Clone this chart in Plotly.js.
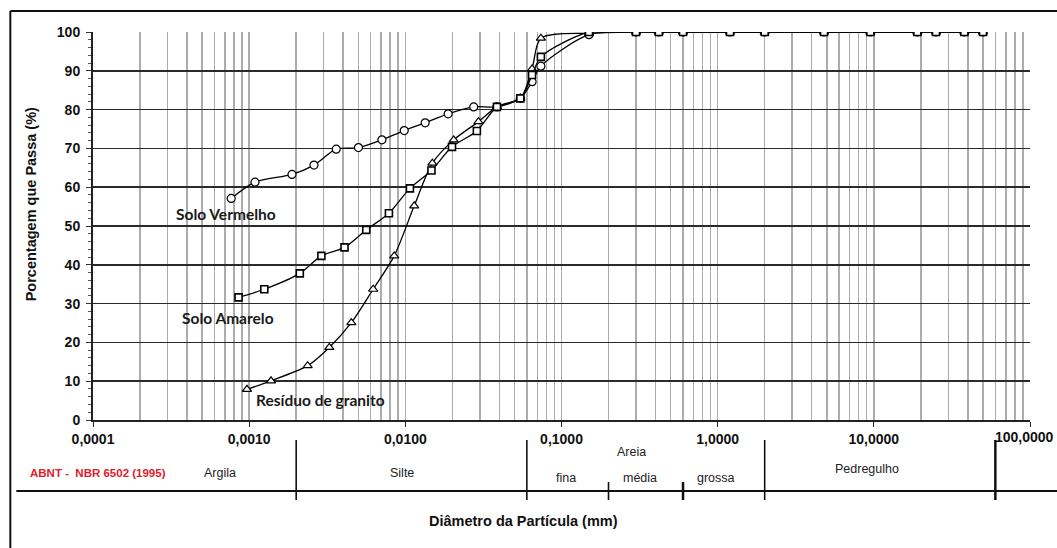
<!DOCTYPE html>
<html>
<head>
<meta charset="utf-8">
<script src="https://cdn.plot.ly/plotly-3.0.1.min.js"></script>
<style>html,body{margin:0;padding:0;background:#fff;}#chart{width:1057px;height:548px;}</style>
</head>
<body>
<div id="chart"></div>
<script>
// ---- Data ----
const dVermelho = [0.000767, 0.00109, 0.00188, 0.0026, 0.00361, 0.00501, 0.00708, 0.00984, 0.0134, 0.0188, 0.0274, 0.0386, 0.0545, 0.0648, 0.0738, 0.15, 0.3, 0.42, 0.6, 1.2, 2.0, 4.8, 9.5, 19, 25, 38, 50];
const pVermelho = [57.1, 61.3, 63.3, 65.7, 69.8, 70.2, 72.2, 74.6, 76.6, 78.9, 80.7, 80.7, 82.9, 87.2, 91.2, 99.3, 100, 100, 100, 100, 100, 100, 100, 100, 100, 100, 100];

const dAmarelo = [0.000855, 0.00125, 0.00211, 0.0029, 0.00408, 0.00562, 0.00785, 0.0107, 0.0147, 0.0199, 0.0287, 0.0386, 0.0545, 0.0648, 0.0738, 0.15, 0.3, 0.42, 0.6, 1.2, 2.0, 4.8, 9.5, 19, 25, 38, 50];
const pAmarelo = [31.6, 33.7, 37.8, 42.3, 44.5, 49.0, 53.3, 59.7, 64.3, 70.4, 74.5, 80.7, 82.9, 88.9, 93.6, 100, 100, 100, 100, 100, 100, 100, 100, 100, 100, 100, 100];

const dGranito = [0.000968, 0.00138, 0.00237, 0.00326, 0.00451, 0.00622, 0.00849, 0.0114, 0.0149, 0.0204, 0.0294, 0.0386, 0.0545, 0.0648, 0.0738, 0.15, 0.3, 0.42, 0.6, 1.2, 2.0, 4.8, 9.5, 19, 25, 38, 50];
const pGranito = [7.9, 10.1, 14.0, 18.7, 25.1, 33.7, 42.3, 55.2, 66.2, 72.2, 76.9, 80.7, 82.9, 90.5, 98.4, 99.7, 100, 100, 100, 100, 100, 100, 100, 100, 100, 100, 100];

const seriesNames = ["Solo Vermelho", "Solo Amarelo", "Resíduo de granito"];
const xTickVals = [0.0001, 0.001, 0.01, 0.1, 1, 10, 100];
const xTickText = ["0,0001", "0,0010", "0,0100", "0,1000", "1,0000", "10,0000", "100,0000"];
const yTickVals = [0, 10, 20, 30, 40, 50, 60, 70, 80, 90, 100];

// ABNT NBR 6502 (1995) class boundaries (mm)
const boundaries = [0.002, 0.06, 0.2, 0.6, 2.0, 60];
const boundaryTall = [true, true, false, false, true, true];
const classLabels = ["Argila", "Silte", "fina", "média", "grossa", "Pedregulho"];

// ---- Helpers (pixel -> paper) ----
const L = 92.7, R = 1030, T = 32, B = 420;
const px = p => (p - L) / (R - L);
const py = p => (B - p) / (B - T);

// minor grid values
const minorVals = [];
for (let e = -4; e < 2; e++) for (let k = 2; k <= 9; k++) minorVals.push(k * Math.pow(10, e));

const lineStyle = {color: "#000", width: 1.3, shape: "spline", smoothing: 0.8};
const traces = [
  {x: dVermelho, y: pVermelho, name: seriesNames[0], mode: "lines+markers", line: lineStyle,
   marker: {symbol: "circle", size: 8, color: "#fff", line: {color: "#000", width: 1.2}}},
  {x: dGranito, y: pGranito, name: seriesNames[2], mode: "lines+markers", line: lineStyle,
   marker: {symbol: "triangle-up", size: 8, color: "#fff", line: {color: "#000", width: 1.2}}},
  {x: dAmarelo, y: pAmarelo, name: seriesNames[1], mode: "lines+markers", line: lineStyle,
   marker: {symbol: "square", size: 7, color: "#fff", line: {color: "#000", width: 1.6}}}
];

const shapes = [];
// outer frame (top & left visible)
shapes.push({type: "line", xref: "paper", yref: "paper", x0: px(10), x1: px(1070), y0: py(11), y1: py(11), line: {color: "#111", width: 2}});
shapes.push({type: "line", xref: "paper", yref: "paper", x0: px(10), x1: px(10), y0: py(11), y1: py(560), line: {color: "#111", width: 2}});
// table horizontal line
shapes.push({type: "line", xref: "paper", yref: "paper", x0: px(16), x1: px(1070), y0: py(491), y1: py(491), line: {color: "#111", width: 2}});
// separators
boundaries.forEach((b, i) => {
  shapes.push({type: "line", xref: "x", yref: "paper", x0: b, x1: b,
    y0: py(boundaryTall[i] ? 440 : 482), y1: py(500),
    line: {color: "#111", width: (b === 0.6 || b === 60) ? 2.5 : 1.6}});
});

const tableFont = {family: "Liberation Sans, Arial, sans-serif", size: 12.5, color: "#222"};
const labelFont = {family: "Lato, Calibri, sans-serif", size: 15.5, color: "#1a1a1a", weight: 700};
const titleFont = {family: "Liberation Sans, Arial, sans-serif", size: 14.5, color: "#111"};
const tickFont = {family: "Liberation Sans, Arial, sans-serif", size: 14, weight: 700, color: "#111"};

// last x tick label sits at the page edge: drawn as annotation, right-aligned to fit
const lastIdx = xTickVals.length - 1;
const shownTickText = xTickText.map((t, i) => i === lastIdx ? "" : t);

const annotations = [
  {text: "<b>Solo Vermelho</b>", x: px(226), y: py(214), font: labelFont},
  {text: "<b>Solo Amarelo</b>", x: px(228), y: py(318), font: labelFont},
  {text: "<b>Resíduo de granito</b>", x: px(320), y: py(400), font: labelFont},
  {text: "<b>ABNT -  NBR 6502 (1995)</b>", x: px(98), y: py(473), font: {family: "Liberation Sans, Arial, sans-serif", size: 11.5, color: "#e0202a"}},
  {text: classLabels[0], x: px(220), y: py(473), font: tableFont},
  {text: classLabels[1], x: px(402), y: py(473), font: tableFont},
  {text: "Areia", x: px(631), y: py(452), font: tableFont},
  {text: classLabels[2], x: px(566), y: py(478), font: tableFont},
  {text: classLabels[3], x: px(640), y: py(478), font: tableFont},
  {text: classLabels[4], x: px(716), y: py(478), font: tableFont},
  {text: classLabels[5], x: px(867), y: py(469), font: tableFont},
  {text: "<b>Diâmetro da Partícula (mm)</b>", x: px(523), y: py(521), font: titleFont},
  {text: "<b>Porcentagem que Passa (%)</b>", x: px(31), y: py(204), textangle: -90, font: titleFont},
  {text: "<b>" + xTickText[lastIdx] + "</b>", x: px(1056), y: py(437), xanchor: "right", font: tickFont}
].map(a => Object.assign({xref: "paper", yref: "paper", showarrow: false, xanchor: "center", yanchor: "middle"}, a));

const layout = {
  width: 1057, height: 548,
  margin: {l: L, r: 1057 - R, t: T, b: 548 - B, pad: 0},
  paper_bgcolor: "#fff", plot_bgcolor: "#fff",
  showlegend: false,
  font: {family: "Liberation Sans, Arial, sans-serif", color: "#111"},
  xaxis: {
    type: "log", range: [-4, 2],
    tickvals: xTickVals, ticktext: shownTickText,
    tickfont: tickFont,
    ticks: "outside", ticklen: 5, tickcolor: "#222",
    showgrid: true, gridcolor: "#acacac", gridwidth: 1.6,
    minor: {tickmode: "array", tickvals: minorVals, showgrid: true, gridcolor: "#acacac", gridwidth: 1.5, ticks: ""},
    showline: true, linecolor: "#222", linewidth: 2, mirror: false,
    zeroline: false
  },
  yaxis: {
    range: [0, 100], tickvals: yTickVals,
    tickfont: tickFont,
    ticks: "outside", ticklen: 5, tickcolor: "#333", ticklabelstandoff: 3,
    minor: {dtick: 2, ticks: "outside", ticklen: 3, tickcolor: "#555", showgrid: false},
    showgrid: true, gridcolor: "#2a2a2a", gridwidth: 1.5,
    showline: true, linecolor: "#222", linewidth: 2,
    zeroline: false
  },
  shapes: shapes,
  annotations: annotations
};

Plotly.newPlot("chart", traces, layout, {staticPlot: true, displayModeBar: false});
</script>
</body>
</html>
